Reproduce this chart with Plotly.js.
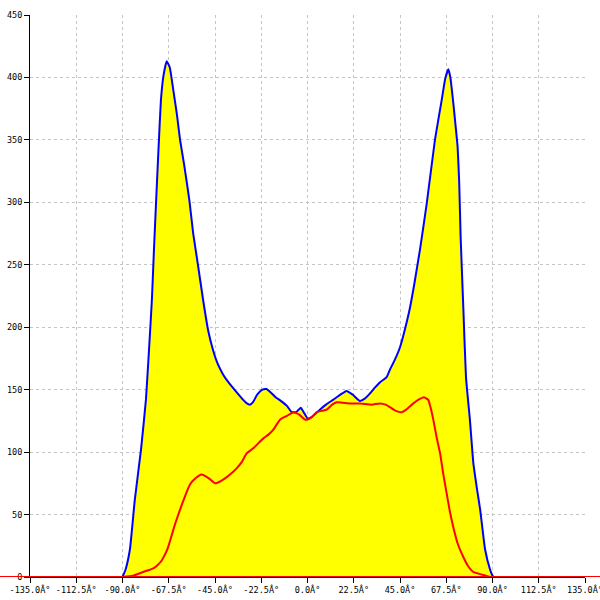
<!DOCTYPE html>
<html>
<head>
<meta charset="utf-8">
<script src="https://cdn.plot.ly/plotly-3.0.1.min.js"></script>
<style>html,body{margin:0;padding:0;background:#fff;}#chart{width:600px;height:600px;}</style>
</head>
<body>
<div id="chart"></div>
<script>
// Blue (total) curve, yellow filled underneath
var totalAngle = [-90,-88.5,-86.4,-84,-81,-78.6,-77.1,-75.7,-74.7,-73.4,-72.5,-71.3,-70,-68.5,-67,-65.3,-63.5,-62,-60,-57.5,-55.6,-53.3,-50.8,-48.4,-46,-43.5,-41,-38.5,-36.5,-34,-31.4,-29.5,-28,-26.5,-24.5,-22,-20,-18,-15.5,-13,-10,-7.7,-5.5,-3.3,-1.5,0,2,4,6,9,12.6,16,19,22,25.5,28,30.4,33,35.3,38.5,40.1,42.5,45,47.5,49.9,52,54.7,58,62,65.3,67,68.5,69.5,70.9,72,73,73.8,74.5,75.8,77.1,79,80.7,82.5,84,86.4,88.8,90,90.5];
var totalCount = [0,6,22,62,102,142,182,222,262,310,342,382,402,413,408,390,370,350,330,302,275,250,222,198,182,170,162,156,152,147,142,139,138,140,146,150,150.5,148,144,141,137,132,132,135.5,131,127,128,131,134,138,142,146,149,146,141,143,147,152,156,160,166,174,184,199,216,235,262,299,350,382,399,406.5,400,380,362,345,316,272,216,160,126,91,70,54,22,6,1,0];

// Red curve
var partAngle = [-90,-85,-80,-75,-73,-71,-69.5,-68,-66.5,-64.5,-62,-59.5,-57.2,-54.5,-51.5,-48,-45,-42,-39.3,-37,-34.5,-32,-29.6,-26.4,-24,-21.5,-19,-16.6,-13.4,-10,-6.9,-4,-1.2,0,2,4.5,7,9.3,12,14.2,17,20.7,25.5,28,31.2,35.3,38,40.1,43,45.8,48,51.5,54,56.7,58.8,60,61.2,62.8,64.5,66,67.7,69.3,70.9,73,75.8,78,80.7,85.5,89,135];
var partCount = [0,1,4,7,9.5,13,17.5,23,31,42,54,65,74,79,82,79,75,77,80,83,87,92,99,103,107,111,114,118,126,129,132,130,126,126,128,132,133,134,138,140,139.5,139,139,138.5,138,139,138,136,133,132,134,139,142,144,141.7,135,126,112,99,83,67,52,40,27,16,9,4,1.6,0,0];

var xTickVals = [-135,-112.5,-90,-67.5,-45,-22.5,0,22.5,45,67.5,90,112.5,135];
var xTickText = ["-135.0Â°","-112.5Â°","-90.0Â°","-67.5Â°","-45.0Â°","-22.5Â°","0.0Â°","22.5Â°","45.0Â°","67.5Â°","90.0Â°","112.5Â°","135.0Â°"];
var yTickVals = [0,50,100,150,200,250,300,350,400,450];

var traces = [
  {x: totalAngle, y: totalCount, type:'scatter', mode:'lines', fill:'tozeroy',
   fillcolor:'#ffff00', line:{color:'#0000ff', width:2, shape:'spline', smoothing:0.4}, hoverinfo:'skip'},
  {x: partAngle, y: partCount, type:'scatter', mode:'lines',
   line:{color:'#ff0000', width:2, shape:'spline', smoothing:0.4}, hoverinfo:'skip'}
];

var layout = {
  width:600, height:600,
  margin:{l:30, r:15, t:15, b:23, pad:0},
  paper_bgcolor:'#ffffff', plot_bgcolor:'#ffffff',
  showlegend:false,
  font:{family:'"DejaVu Sans Mono", monospace', size:8.5, color:'#000'},
  xaxis:{range:[-135,135], tickmode:'array', tickvals:xTickVals, ticktext:xTickText,
         showgrid:true, gridcolor:'#c4c4c4', griddash:'3px,3px', gridwidth:1,
         zeroline:false, showline:true, linecolor:'#000', linewidth:1,
         ticks:'outside', ticklen:5, tickcolor:'#000', tickangle:0,
         ticklabeloverflow:'allow', fixedrange:true},
  yaxis:{range:[0,450], tickmode:'array', tickvals:yTickVals,
         showgrid:true, gridcolor:'#c4c4c4', griddash:'3px,3px', gridwidth:1,
         zeroline:false, showline:true, linecolor:'#000', linewidth:1,
         ticks:'outside', ticklen:5, tickcolor:'#000',
         ticklabeloverflow:'allow', fixedrange:true},
  shapes:[
    {type:'line', xref:'paper', yref:'y', x0:-0.06, x1:1.03, y0:0, y1:0,
     line:{color:'#ff0000', width:2}, layer:'above'}
  ]
};
Plotly.newPlot('chart', traces, layout, {staticPlot:true, displayModeBar:false});
</script>
</body>
</html>
